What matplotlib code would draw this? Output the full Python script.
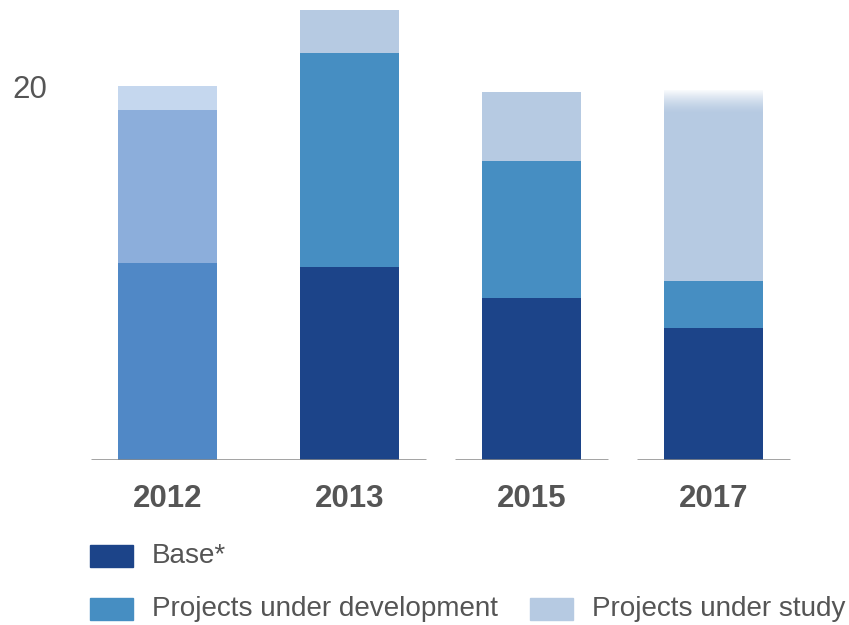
import matplotlib.pyplot as plt
import numpy as np
from matplotlib.patches import Rectangle

plt.rcParams['font.family'] = ['Liberation Sans', 'DejaVu Sans']

# Stacked values per year
years = ["2012", "2013", "2015", "2017"]
base = [10.6, 10.4, 8.7, 7.1]
development = [8.2, 11.5, 7.4, 2.5]
study = [1.3, 2.3, 3.7, 10.3]
labels = ["Base*", "Projects under development", "Projects under study"]

# baseline drawn in groups (break between 2013/2015 and 2015/2017)
groups = [[0, 1], [2], [3]]

c_base, c_dev, c_study = "#1C4489", "#468EC2", "#B6CAE2"
c_2012 = ["#5088C6", "#8CAEDB", "#C5D7EE"]

fig = plt.figure(figsize=(8.49, 6.25), dpi=100)
ax = fig.add_axes([0, 0.264, 1, 0.736])
ax.axis("off")

x = np.arange(len(years))
w = 0.544
b = np.array(base)
d = np.array(development)
s = np.array(study)

cols_base = [c_2012[0]] + [c_base] * 3
cols_dev = [c_2012[1]] + [c_dev] * 3
cols_study = [c_2012[2]] + [c_study] * 3

ax.bar(x, b, w, color=cols_base)
ax.bar(x, d, w, bottom=b, color=cols_dev)
bars = ax.bar(x, s, w, bottom=b + d, color=cols_study)

# fade the top of the last bar into white
last = bars[-1]
top = last.get_y() + last.get_height()
fade = 1.3
grad = np.ones((100, 1, 4))
grad[:, 0, 3] = np.linspace(1, 0, 100) ** 1.5
ax.imshow(grad, extent=[last.get_x(), last.get_x() + w, top - fade, top],
          aspect="auto", zorder=3, interpolation="bilinear", origin="upper")

for g in groups:
    ax.plot([g[0] - 0.42, g[-1] + 0.42], [0, 0], color="#888888", lw=1.8,
            solid_capstyle="butt", zorder=4)

ax.set_xlim(-0.920, 3.745)
ax.set_ylim(0, 24.73)

for xi, yr in zip(x, years):
    ax.text(xi, -2.12, yr, ha="center", va="center", fontsize=22.5,
            fontweight="bold", color="#555555", clip_on=False)

ax.text(-0.755, 19.9, "20", ha="center", va="center", fontsize=22.5,
        color="#555555")

# legend
W, H = 849, 625
def legend_item(px, py, color, text):
    fig.patches.append(Rectangle((px / W, 1 - (py + 11) / H), 43 / W, 22 / H,
                                 transform=fig.transFigure, color=color))
    fig.text((px + 62) / W, 1 - py / H, text, ha="left", va="center",
             fontsize=20.1, color="#555555")

legend_item(90, 556, c_base, labels[0])
legend_item(90, 609, c_dev, labels[1])
legend_item(530, 609, c_study, labels[2])

fig.savefig("out.png", dpi=100)
